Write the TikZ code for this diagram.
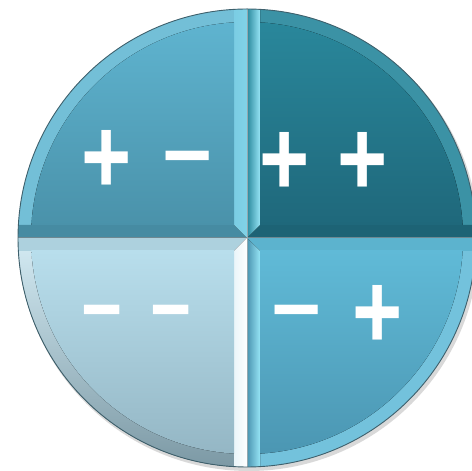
\documentclass[tikz,border=0pt]{standalone}
\usepackage{fontspec}
\newfontfamily\signfont{Liberation Sans}
\usetikzlibrary{math}
\definecolor{tltop}{RGB}{96,182,210}
\definecolor{tlbot}{RGB}{74,146,170}
\definecolor{trtop}{RGB}{42,137,157}
\definecolor{trbot}{RGB}{31,104,123}
\definecolor{bltop}{RGB}{184,222,236}
\definecolor{blbot}{RGB}{146,180,194}
\definecolor{brtop}{RGB}{96,186,215}
\definecolor{brbot}{RGB}{74,148,176}
\definecolor{rimdark}{RGB}{62,96,108}
\definecolor{glint}{RGB}{150,228,245}

\begin{document}
\begin{tikzpicture}[x=1pt,y=1pt,
  sign/.style={text=white, inner sep=0pt, font=\signfont\bfseries\fontsize{86}{86}\selectfont},
  plussign/.style={sign, yscale=1.25, transform shape},
  shortminus/.style={sign, xscale=0.82, transform shape}]
\tikzmath{
\cx=247;
\cy=233;
\R=229;
\b=13;
}
\useasboundingbox (0,0) rectangle (472,471);
%shadow
\fill[black!15] (\cx+2,\cy-3) circle (\R+1);

%top left
\fill[color=tltop!88!white] (\cx,\cy) -- (\cx-\R,\cy) arc[start angle=180,end angle=90,radius=\R] -- cycle;
\begin{scope}
\clip (\cx,\cy) circle (\R);
\fill[color=tlbot!95!black] (\cx,\cy) -- (\cx-\b,\cy+\b) -- (\cx-\R,\cy+\b) -- (\cx-\R,\cy) -- cycle;
\fill[left color=tltop!50!glint, right color=glint!60!tltop] (\cx,\cy) -- (\cx-\b,\cy+\b) -- (\cx-\b,\cy+\R) -- (\cx,\cy+\R) -- cycle;
\clip (\cx,\cy) circle (\R-\b);
\fill[top color=tltop, bottom color=tlbot] (\cx-\b,\cy+\b) rectangle (\cx-\R,\cy+\R);
\end{scope}

%top right
\fill[color=trtop!92!white] (\cx,\cy) -- (\cx+\R,\cy) arc[start angle=0,end angle=90,radius=\R] -- cycle;
\begin{scope}
\clip (\cx,\cy) circle (\R);
\fill[color=trbot!95!black] (\cx,\cy) -- (\cx+\b,\cy+\b) -- (\cx+\R,\cy+\b) -- (\cx+\R,\cy) -- cycle;
\fill[left color=trtop, right color=glint] (\cx,\cy) -- (\cx+\b,\cy+\b) -- (\cx+\b,\cy+\R) -- (\cx,\cy+\R) -- cycle;
\clip (\cx,\cy) circle (\R-\b);
\fill[top color=trtop, bottom color=trbot] (\cx+\b,\cy+\b) rectangle (\cx+\R,\cy+\R);
\end{scope}

%bottom left
\fill[top color=bltop!60!white, bottom color=blbot!85!black] (\cx,\cy) -- (\cx-\R,\cy) arc[start angle=180,end angle=270,radius=\R] -- cycle;
\begin{scope}
\clip (\cx,\cy) circle (\R);
\fill[color=bltop!94!black] (\cx,\cy) -- (\cx-\b,\cy-\b) -- (\cx-\R,\cy-\b) -- (\cx-\R,\cy) -- cycle;
\fill[left color=bltop!30!white, right color=white] (\cx,\cy) -- (\cx-\b,\cy-\b) -- (\cx-\b,\cy-\R) -- (\cx,\cy-\R) -- cycle;
\clip (\cx,\cy) circle (\R-\b);
\fill[top color=bltop, bottom color=blbot] (\cx-\b,\cy-\b) rectangle (\cx-\R,\cy-\R);
\end{scope}

%bottom right
\fill[color=brtop!88!white] (\cx,\cy) -- (\cx+\R,\cy) arc[start angle=0,end angle=-90,radius=\R] -- cycle;
\begin{scope}
\clip (\cx,\cy) circle (\R);
\fill[color=brtop!96!black] (\cx,\cy) -- (\cx+\b,\cy-\b) -- (\cx+\R,\cy-\b) -- (\cx+\R,\cy) -- cycle;
\fill[left color=brbot, right color=glint] (\cx,\cy) -- (\cx+\b,\cy-\b) -- (\cx+\b,\cy-\R) -- (\cx,\cy-\R) -- cycle;
\clip (\cx,\cy) circle (\R-\b);
\fill[top color=brtop, bottom color=brbot] (\cx+\b,\cy-\b) rectangle (\cx+\R,\cy-\R);
\end{scope}

%split lines and rim
\draw[rimdark!75, line width=1] (\cx-\R,\cy) -- (\cx+\R,\cy);
\draw[rimdark!55, line width=0.8] (\cx,\cy-\R) -- (\cx,\cy+\R);
\draw[rimdark, line width=0.9] (\cx,\cy) circle (\R);

%signs
\node[plussign] (tlplus) at (107,309) {+};
\node[sign] (tlminus) at (188,303) {−};
\node[plussign] (trplusa) at (285,307) {+};
\node[plussign] (trplusb) at (363,307) {+};
\node[shortminus] (blminusa) at (102,149) {−};
\node[shortminus] (blminusb) at (171,149) {−};
\node[sign] (brminus) at (297,149) {−};
\node[plussign] (brplus) at (378,154) {+};
\end{tikzpicture}
\end{document}
